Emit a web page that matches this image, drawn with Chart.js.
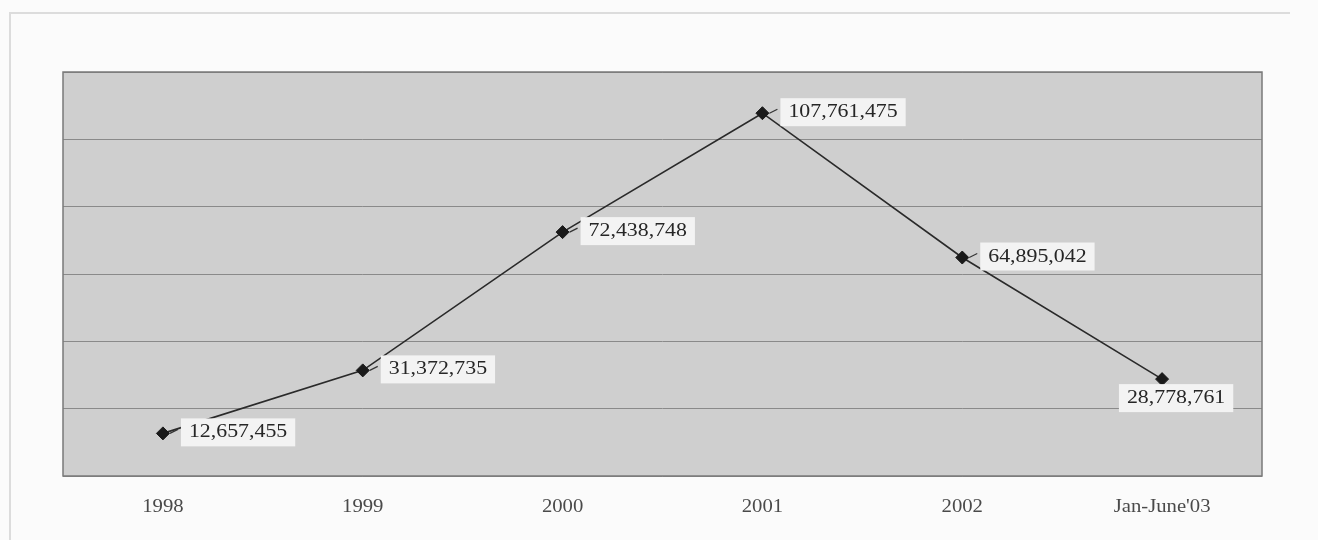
<!DOCTYPE html>
<html>
<head>
<meta charset="utf-8">
<script src="https://cdn.jsdelivr.net/npm/chart.js@4"></script>
<style>
  html, body { margin: 0; padding: 0; background: #fbfbfb; }
  canvas { display: block; }
</style>
</head>
<body>
<canvas id="c" width="1318" height="540"></canvas>
<script>
// Yearly totals
const periods = ['1998', '1999', '2000', '2001', '2002', "Jan-June'03"];
const totals = [12657455, 31372735, 72438748, 107761475, 64895042, 28778761];
const valueLabels = ['12,657,455', '31,372,735', '72,438,748', '107,761,475', '64,895,042', '28,778,761'];
const yMin = 0, yMax = 120000000, yStep = 20000000;

const SERIF = '"Liberation Serif", "DejaVu Serif", serif';
const STRETCH = 1.15; // text drawn slightly wide

function stretchedText(ctx, text, x, y, size, color, align) {
  ctx.save();
  ctx.font = size + 'px ' + SERIF;
  ctx.fillStyle = color;
  ctx.textBaseline = 'middle';
  const w = ctx.measureText(text).width * STRETCH;
  let left = x;
  if (align === 'center') left = x - w / 2;
  ctx.translate(left, y);
  ctx.scale(STRETCH, 1);
  ctx.textAlign = 'left';
  ctx.fillText(text, 0, 0);
  ctx.restore();
  return w;
}

const framePlugin = {
  id: 'frame',
  beforeDraw(chart) {
    const { ctx, chartArea: a } = chart;
    ctx.save();
    // outer panel outline
    ctx.strokeStyle = '#dcdcdc';
    ctx.lineWidth = 2;
    ctx.beginPath();
    ctx.moveTo(10, 540);
    ctx.lineTo(10, 13);
    ctx.lineTo(1290, 13);
    ctx.stroke();
    // plot background
    ctx.fillStyle = '#cfcfcf';
    ctx.fillRect(a.left, a.top, a.right - a.left, a.bottom - a.top);
    ctx.restore();
  },
  beforeDatasetsDraw(chart) {
    const { ctx, chartArea: a } = chart;
    ctx.save();
    ctx.strokeStyle = '#7a7a7a';
    ctx.lineWidth = 1.5;
    ctx.strokeRect(a.left, a.top, a.right - a.left, a.bottom - a.top);
    ctx.restore();
  },
  afterDraw(chart) {
    const { ctx } = chart;
    const xs = chart.scales.x, ys = chart.scales.y;
    // category labels under the plot
    periods.forEach((p, i) => {
      stretchedText(ctx, p, xs.getPixelForValue(i), 507, 18, '#4a4a4a', 'center');
    });
    // value boxes beside each point
    totals.forEach((v, i) => {
      const px = xs.getPixelForValue(i);
      const py = ys.getPixelForValue(v);
      const size = 19;
      ctx.save();
      ctx.font = size + 'px ' + SERIF;
      const tw = ctx.measureText(valueLabels[i]).width * STRETCH;
      ctx.restore();
      const last = i === totals.length - 1;
      let bx, by;
      const bw = tw + 16, bh = 28;
      if (last) {
        bx = px + 14 - bw / 2;
        by = py + 5;
      } else {
        bx = px + 18;
        by = py - 15;
      }
      ctx.save();
      ctx.fillStyle = '#f3f3f3';
      ctx.fillRect(bx, by, bw, bh);
      if (!last) {
        ctx.strokeStyle = '#333';
        ctx.lineWidth = 1.2;
        ctx.beginPath();
        ctx.moveTo(px + 7, py);
        ctx.lineTo(px + 15, py - 4);
        ctx.stroke();
      }
      ctx.restore();
      stretchedText(ctx, valueLabels[i], bx + 8, by + bh / 2, size, '#262626', 'left');
    });
  }
};

new Chart(document.getElementById('c'), {
  type: 'line',
  data: {
    labels: periods,
    datasets: [{
      data: totals,
      borderColor: '#2a2a2a',
      borderWidth: 1.6,
      pointStyle: 'rectRot',
      pointRadius: 6.5,
      pointBackgroundColor: '#1a1a1a',
      pointBorderColor: '#1a1a1a',
      pointBorderWidth: 1,
      tension: 0,
      fill: false
    }]
  },
  options: {
    responsive: false,
    animation: false,
    devicePixelRatio: 1,
    layout: { padding: { left: 63, right: 56, top: 72, bottom: 0 } },
    plugins: { legend: { display: false }, tooltip: { enabled: false } },
    scales: {
      x: {
        offset: true,
        grid: { display: false, drawTicks: false },
        border: { display: false },
        ticks: { display: false },
        afterFit(s) { s.height = 64; }
      },
      y: {
        min: yMin,
        max: yMax,
        ticks: { display: false, stepSize: yStep },
        grid: { color: '#8a8a8a', lineWidth: 1, drawTicks: false },
        border: { display: false },
        afterFit(s) { s.width = 0; }
      }
    }
  },
  plugins: [framePlugin]
});
</script>
</body>
</html>
